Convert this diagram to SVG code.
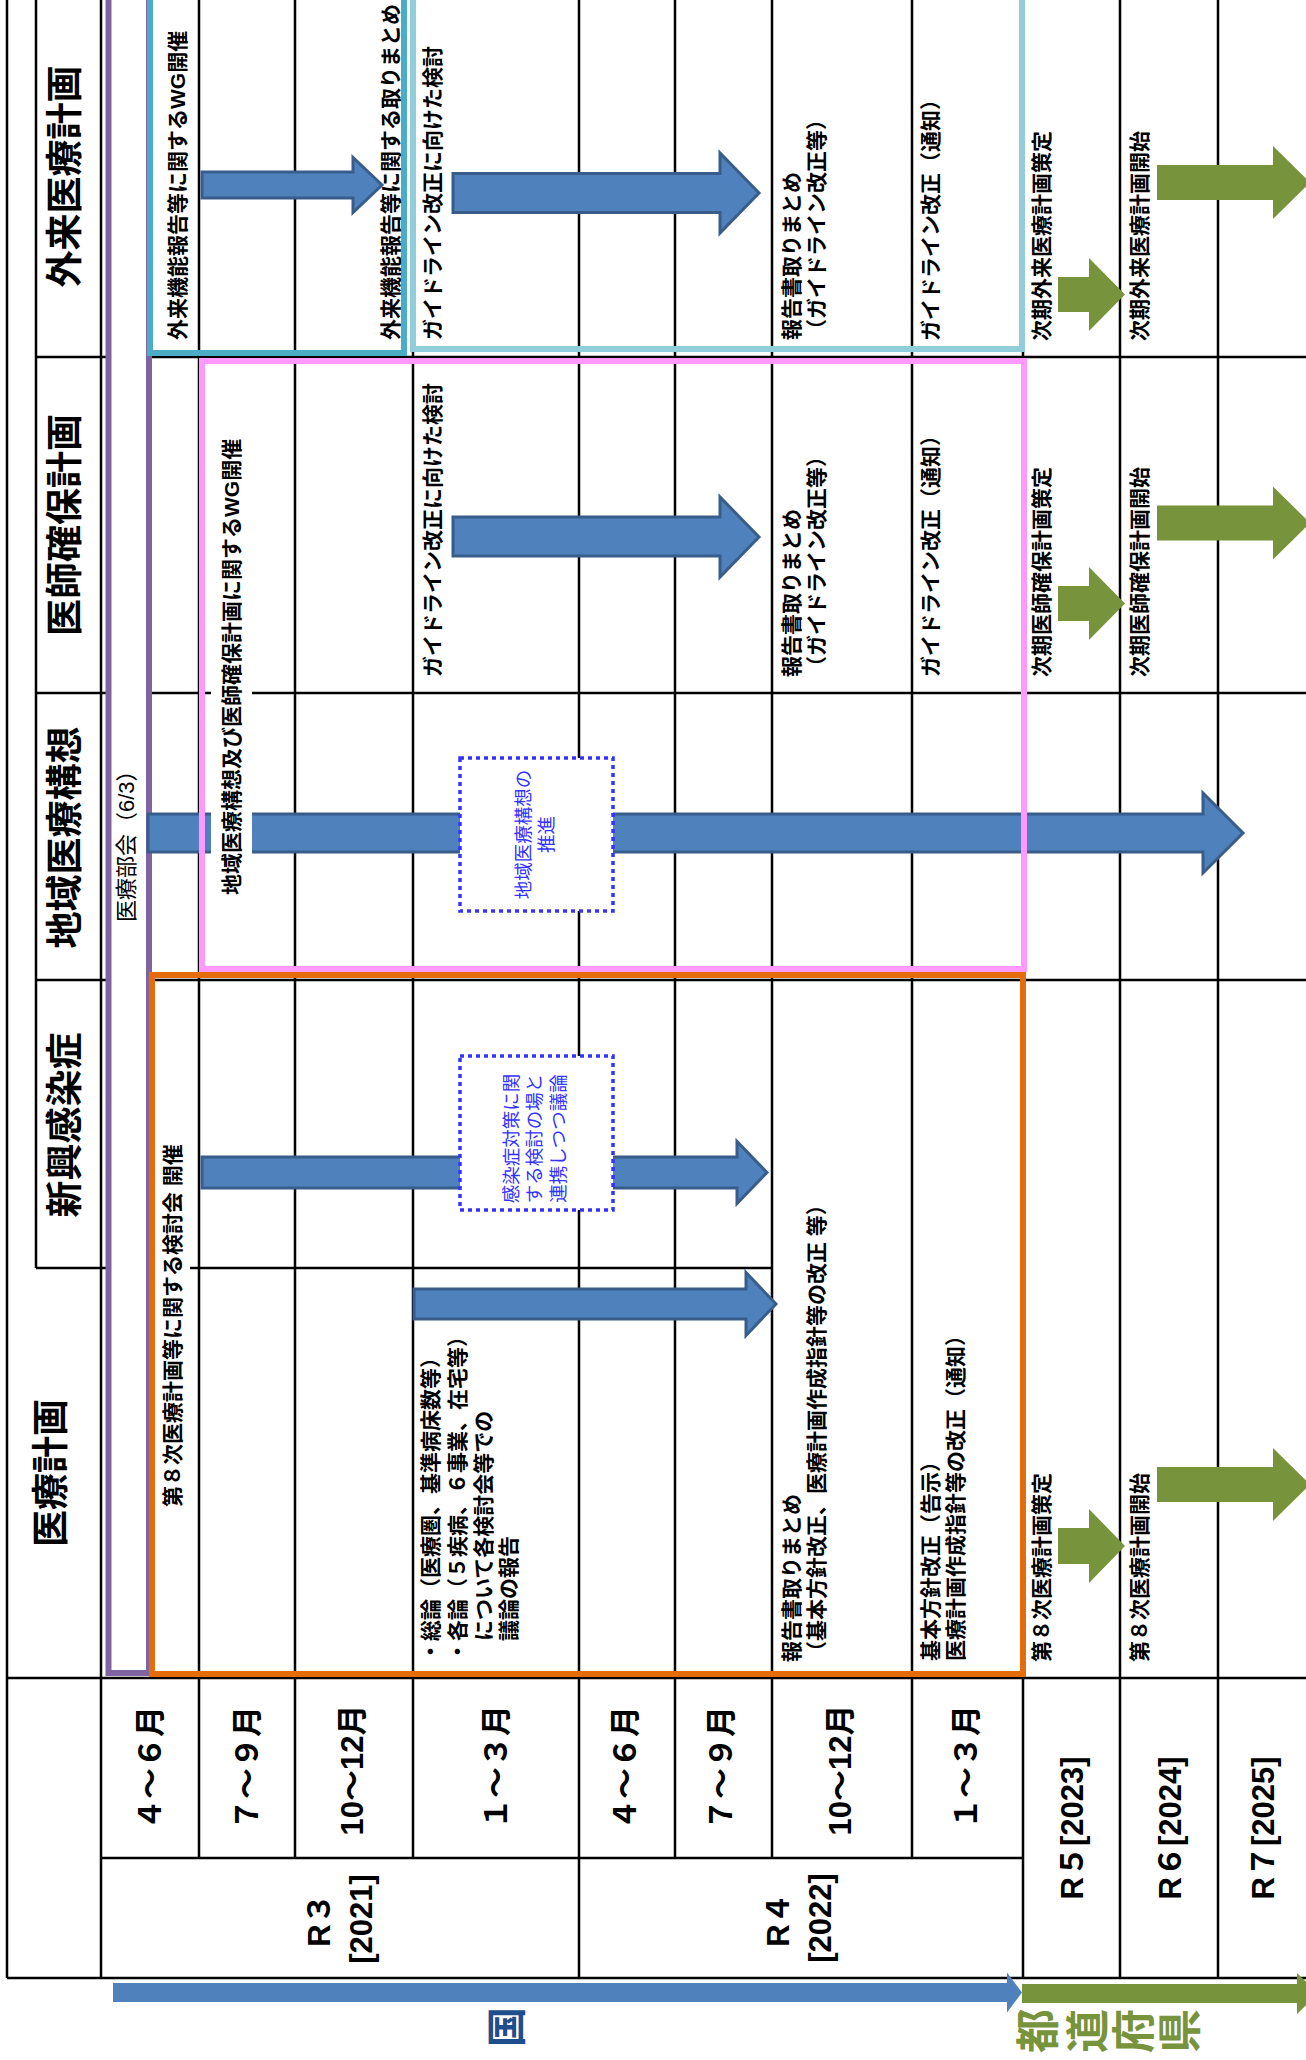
<svg xmlns="http://www.w3.org/2000/svg" width="1306" height="2060" viewBox="0 0 1306 2060">
<style>
.grid{fill:none;stroke:#000;stroke-width:2.5}
.t{font-family:"Liberation Sans","Noto Sans CJK JP",sans-serif;font-weight:bold;font-size:21px;fill:#000;dominant-baseline:central}
.h{font-size:37px;text-anchor:middle}
.tm{font-size:31px;text-anchor:middle}
.m{text-anchor:middle}
.dt{font-weight:normal;font-size:18.5px;fill:#3333FF;text-anchor:middle}
.ba{fill:#4F81BD;stroke:#385D8A;stroke-width:3}
.ga{fill:#77933C}
.box{fill:none;stroke-width:6}
.dot{fill:#fff;stroke:#3333FF;stroke-width:3.5;stroke-dasharray:4 4}
.bg{fill:#fff}
</style>
<rect width="1306" height="2060" fill="#fff"/>
<g id="grid" class="grid">
<path d="M7 0V1978M36 0V1268M101 0V1978M199 0V1858M295 0V1858M413 0V1858M579 0V1978M675 0V1858M772 0V1858M912 0V1858M1023 0V1978M1120 0V1978M1218 0V1978"/>
<path d="M36 357H1306M36 693H1306M36 980H1306M36 1268H772M7 1678H1306M101 1858H1023M7 1978H1306"/>
</g>
<g id="box-bukai">
<rect x="108.5" y="-10" width="40.5" height="1683" fill="#fff" stroke="#8064A2" stroke-width="6"/>
<text class="t" style="font-weight:normal;font-size:22px" transform="translate(126,922) rotate(-90)">医療部会（6/3）</text>
</g>
<g id="connectors">
<path class="ba" d="M202,172H353V157.5L382,185L353,212.5V198H202Z"/>
<path class="ba" d="M453,173.5H720V153L759,193L720,233V212.5H453Z"/>
<path class="ba" d="M453,517H720V497L759,537L720,577V556H453Z"/>
<path class="ba" d="M148,814H1203V793L1243,833L1203,873V852H148Z"/>
<path class="ba" d="M202,1157H737V1141.5L767,1172.5L737,1203.5V1188H202Z"/>
<path class="ba" d="M414,1289H746V1272.5L776,1304L746,1335.5V1319H414Z"/>
<path class="ga" d="M1058,277H1089V258L1125,294.5L1089,331V312H1058Z"/>
<path class="ga" d="M1157,165H1273V146L1310,182.5L1273,219V200H1157Z"/>
<path class="ga" d="M1058,586H1089V567L1125,603.5L1089,640V621H1058Z"/>
<path class="ga" d="M1157,505.5H1273V486.5L1310,523L1273,559.5V540.5H1157Z"/>
<path class="ga" d="M1058,1528H1089V1509L1125,1546L1089,1583V1564H1058Z"/>
<path class="ga" d="M1157,1467H1273V1448L1310,1484.5L1273,1521V1502H1157Z"/>
<path fill="#4F81BD" d="M113,1983H1007V1972.5L1022,1992.5L1007,2012.5V2002H113Z"/>
<path class="ga" d="M1022,1984H1297V1973L1318,1993.5L1297,2014V2003H1022Z"/>
</g>
<g id="boxes">
<rect class="box" x="150" y="-10" width="254" height="363" stroke="#4BACC6"/>
<rect class="box" x="413" y="-10" width="609" height="359" stroke="#92CDDC"/>
<rect class="box" x="202" y="361" width="822" height="608" stroke="#FF99FF"/>
<rect class="box" x="152" y="975" width="871" height="699" stroke="#E46C0A"/>
</g>
<g id="note-chiiki">
<rect class="dot" x="460" y="758" width="153" height="153"/>
<text class="t dt" transform="translate(523.5,834.5) rotate(-90)">地域医療構想の</text>
<text class="t dt" transform="translate(546.5,834.5) rotate(-90)">推進</text>
</g>
<g id="note-kansen">
<rect class="dot" x="460" y="1056" width="153" height="154"/>
<text class="t dt" transform="translate(511.5,1138.5) rotate(-90)">感染症対策に関</text>
<text class="t dt" transform="translate(534.5,1138.5) rotate(-90)">する検討の場と</text>
<text class="t dt" transform="translate(558.5,1138.5) rotate(-90)">連携しつつ議論</text>
</g>
<g id="headers">
<text class="t h" transform="translate(65,176.5) rotate(-90)">外来医療計画</text>
<text class="t h" transform="translate(65,525) rotate(-90)">医師確保計画</text>
<text class="t h" transform="translate(65,837.5) rotate(-90)">地域医療構想</text>
<text class="t h" transform="translate(65,1125) rotate(-90)">新興感染症</text>
<text class="t h" transform="translate(51,1473) rotate(-90)">医療計画</text>
</g>
<g id="gairai">
<text class="t" transform="translate(177,340) rotate(-90)">外来機能報告等に関するWG開催</text>
<text class="t" transform="translate(390,340) rotate(-90)">外来機能報告等に関する取りまとめ</text>
<text class="t" transform="translate(432,340) rotate(-90)">ガイドライン改正に向けた検討</text>
<text class="t" transform="translate(791,340) rotate(-90)">報告書取りまとめ</text>
<text class="t" transform="translate(816,340) rotate(-90)">（ガイドライン改正等）</text>
<text class="t" transform="translate(930,341) rotate(-90)">ガイドライン改正（通知）</text>
<text class="t" transform="translate(1041,341) rotate(-90)">次期外来医療計画策定</text>
<text class="t" transform="translate(1139,341) rotate(-90)">次期外来医療計画開始</text>
</g>
<g id="ishi">
<rect class="bg" x="211" y="430" width="41" height="468"/>
<text class="t" transform="translate(231,895) rotate(-90)">地域医療構想及び医師確保計画に関するWG開催</text>
<text class="t" transform="translate(432,677) rotate(-90)">ガイドライン改正に向けた検討</text>
<text class="t" transform="translate(791,677) rotate(-90)">報告書取りまとめ</text>
<text class="t" transform="translate(816,677) rotate(-90)">（ガイドライン改正等）</text>
<text class="t" transform="translate(930,677) rotate(-90)">ガイドライン改正（通知）</text>
<text class="t" transform="translate(1041,677) rotate(-90)">次期医師確保計画策定</text>
<text class="t" transform="translate(1139,677) rotate(-90)">次期医師確保計画開始</text>
</g>
<g id="iryo">
<rect class="bg" x="155" y="1138" width="35" height="374"/>
<text class="t" transform="translate(172,1507) rotate(-90)">第８次医療計画等に関する検討会 開催</text>
<text class="t" transform="translate(430,1662) rotate(-90)">・総論（医療圏、基準病床数等）</text>
<text class="t" transform="translate(457,1662) rotate(-90)">・各論（５疾病、６事業、在宅等）</text>
<text class="t" transform="translate(483,1641) rotate(-90)">について各検討会等での</text>
<text class="t" transform="translate(508,1641) rotate(-90)">議論の報告</text>
<text class="t" transform="translate(791,1662) rotate(-90)">報告書取りまとめ</text>
<text class="t" transform="translate(816,1662) rotate(-90)">（基本方針改正、医療計画作成指針等の改正 等）</text>
<text class="t" transform="translate(930,1661) rotate(-90)">基本方針改正（告示）</text>
<text class="t" transform="translate(955,1661) rotate(-90)">医療計画作成指針等の改正（通知）</text>
<text class="t" transform="translate(1041,1662) rotate(-90)">第８次医療計画策定</text>
<text class="t" transform="translate(1139,1662) rotate(-90)">第８次医療計画開始</text>
</g>
<g id="timeline">
<text class="t tm" transform="translate(150,1768) rotate(-90)">４～６月</text>
<text class="t tm" transform="translate(247,1768) rotate(-90)">７～９月</text>
<text class="t tm" transform="translate(352,1770) rotate(-90)">10～12月</text>
<text class="t tm" transform="translate(496,1767) rotate(-90)">１～３月</text>
<text class="t tm" transform="translate(625,1768) rotate(-90)">４～６月</text>
<text class="t tm" transform="translate(721,1768) rotate(-90)">７～９月</text>
<text class="t tm" transform="translate(840,1770) rotate(-90)">10～12月</text>
<text class="t tm" transform="translate(966,1767) rotate(-90)">１～３月</text>
<text class="t tm" transform="translate(319,1920) rotate(-90)">R３</text>
<text class="t tm" transform="translate(361,1919) rotate(-90)">[2021]</text>
<text class="t tm" transform="translate(778,1920) rotate(-90)">R４</text>
<text class="t tm" transform="translate(820,1918) rotate(-90)">[2022]</text>
<text class="t tm" transform="translate(1072,1828) rotate(-90)">R５[2023]</text>
<text class="t tm" transform="translate(1170,1828) rotate(-90)">R６[2024]</text>
<text class="t tm" transform="translate(1263,1828) rotate(-90)">R７[2025]</text>
</g>
<g id="axis-labels">
<text class="t m" style="font-size:40px;fill:#1F4E8C" transform="translate(507,2027) rotate(-90)">国</text>
<text class="t m" style="font-size:44px;fill:#77933C" transform="translate(1038,2031) rotate(-90)">都</text>
<text class="t m" style="font-size:44px;fill:#77933C" transform="translate(1088,2031) rotate(-90)">道</text>
<text class="t m" style="font-size:44px;fill:#77933C" transform="translate(1134,2031) rotate(-90)">府</text>
<text class="t m" style="font-size:44px;fill:#77933C" transform="translate(1180,2031) rotate(-90)">県</text>
</g>
</svg>
